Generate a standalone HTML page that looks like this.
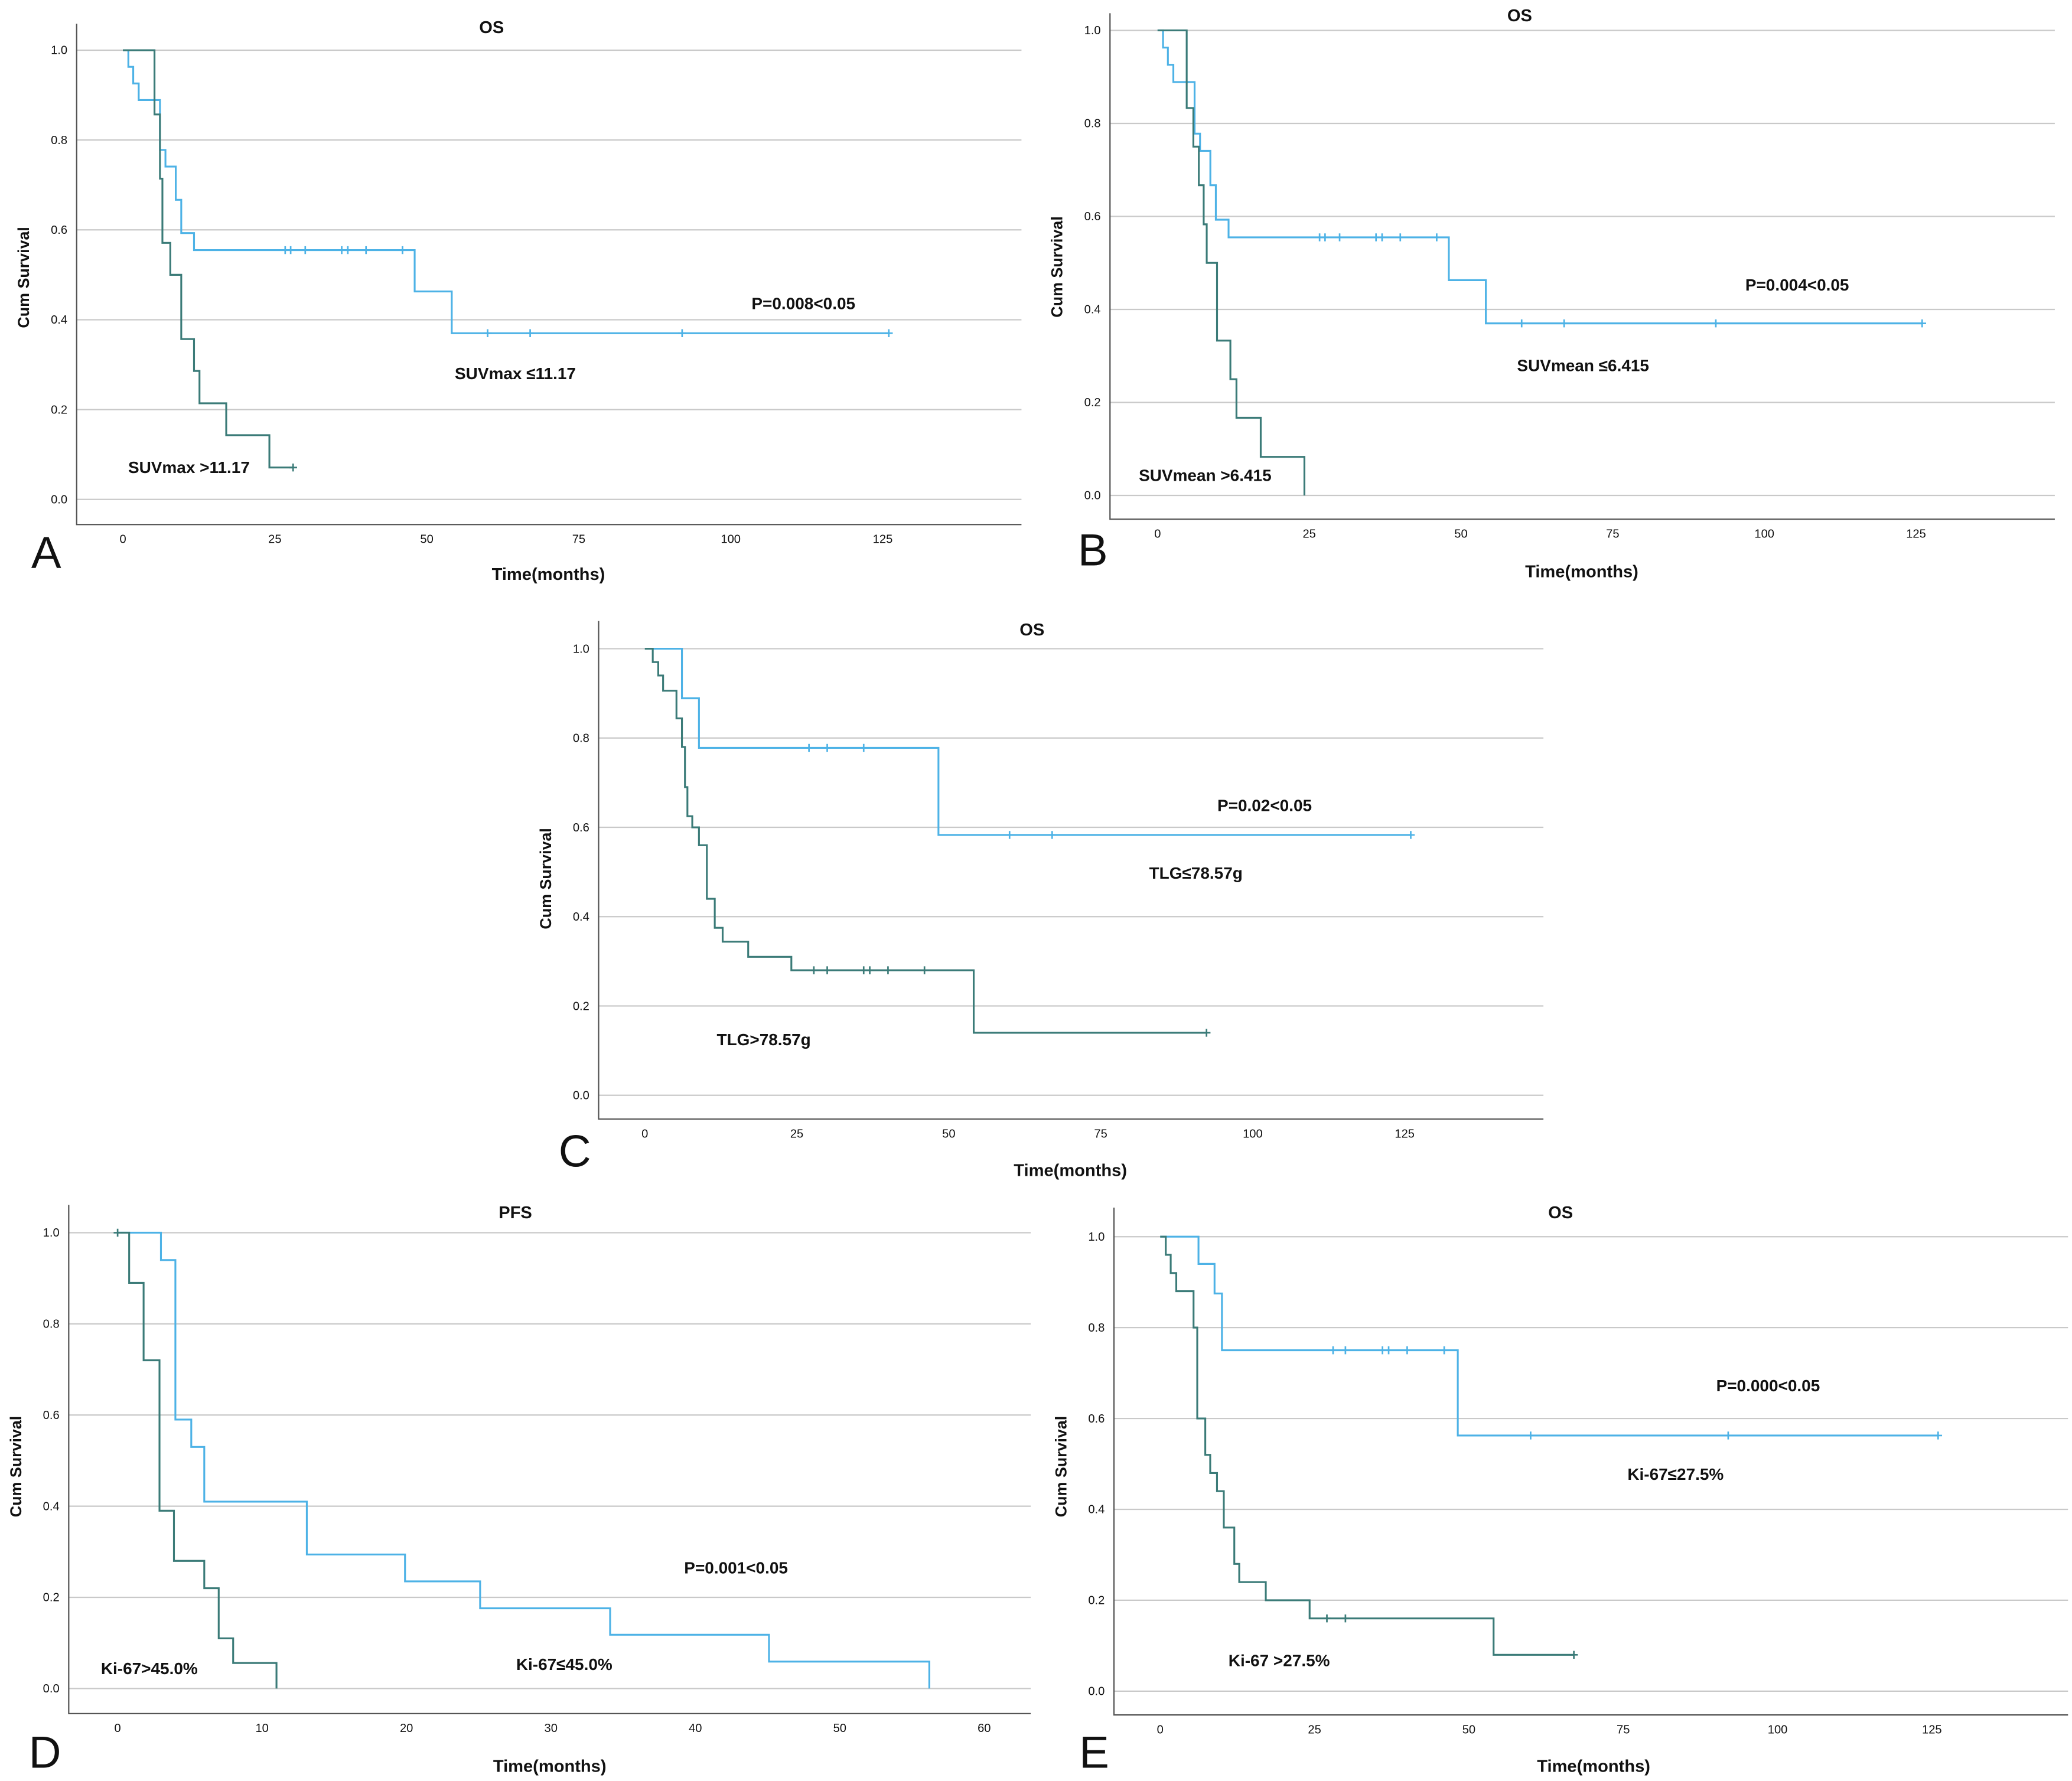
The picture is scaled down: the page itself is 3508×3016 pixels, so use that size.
<!DOCTYPE html>
<html><head><meta charset="utf-8">
<style>
html,body{margin:0;padding:0;background:#fff;}
svg{display:block;}
text{font-family:"Liberation Sans",sans-serif;}
</style></head>
<body>
<svg id="fig" xmlns="http://www.w3.org/2000/svg" width="3508" height="3016" viewBox="0 0 1568 1348" preserveAspectRatio="none"></svg>
<script>
// ---- data arrays (time of step, survival after step, end time, censor times) ----
const aLowT=[0.9,1.7,2.6,6.1,7,8.7,9.6,11.7,48,54.1];
const aLowV=[0.963,0.926,0.889,0.778,0.741,0.667,0.593,0.555,0.463,0.37];
const aLowEnd=126;
const aLowC=[26.7,27.6,30,36,37,40,46,60,67,92,126];
const aHighT=[5.2,6.1,6.5,7.8,9.6,11.7,12.6,17,24.1];
const aHighV=[0.857,0.714,0.571,0.5,0.357,0.286,0.214,0.143,0.071];
const aHighEnd=28;
const aHighC=[28];

const bLowT=[0.9,1.7,2.6,6.1,7,8.7,9.6,11.7,48,54.1];
const bLowV=[0.963,0.926,0.889,0.778,0.741,0.667,0.593,0.555,0.463,0.37];
const bLowEnd=126;
const bLowC=[26.7,27.6,30,36,37,40,46,60,67,92,126];
const bHighT=[4.8,5.9,6.8,7.6,8.1,9.8,12,13,17,24.2];
const bHighV=[0.833,0.75,0.667,0.583,0.5,0.333,0.25,0.167,0.083,0];
const bHighEnd=24.2;
const bHighC=[];

const cLowT=[6.1,8.9,48.3];
const cLowV=[0.889,0.778,0.583];
const cLowEnd=126;
const cLowC=[27,30,36,60,67,126];
const cHighT=[1.3,2.2,3,5.2,6.1,6.6,7,7.8,8.9,10.2,11.5,12.8,17,24.1,54.1];
const cHighV=[0.97,0.94,0.906,0.844,0.78,0.69,0.625,0.6,0.56,0.44,0.375,0.344,0.31,0.28,0.14];
const cHighEnd=92.4;
const cHighC=[27.8,30,36,37,40,46,92.4];

const dLowT=[3,4,5.1,6,13.1,19.9,25.1,34.1,45.1,56.2];
const dLowV=[0.94,0.59,0.53,0.41,0.294,0.235,0.176,0.118,0.059,0];
const dLowEnd=56.2;
const dLowC=[];
const dHighT=[0.8,1.8,2.9,3.9,6,7,8,11];
const dHighV=[0.89,0.72,0.39,0.28,0.22,0.11,0.056,0];
const dHighEnd=11;
const dHighC=[0];

const eLowT=[6.2,8.8,10,48.2];
const eLowV=[0.94,0.875,0.75,0.5625];
const eLowEnd=126;
const eLowC=[28,30,36,37,40,46,60,92,126];
const eHighT=[0.9,1.7,2.6,5.4,6,7.3,8.1,9.2,10.3,12,12.8,17.1,24.2,54];
const eHighV=[0.96,0.92,0.88,0.8,0.6,0.52,0.48,0.44,0.36,0.28,0.24,0.2,0.16,0.08];
const eHighEnd=67;
const eHighC=[27,30,67];

const yTicks=["0.0","0.2","0.4","0.6","0.8","1.0"];
const yTickVals=[0,0.2,0.4,0.6,0.8,1.0];
const osXTicks=[0,25,50,75,100,125];
const pfsXTicks=[0,10,20,30,40,50,60];

const LIGHT="#4db2e6", DARK="#3b7b78";
const NS="http://www.w3.org/2000/svg";
const svg=document.getElementById('fig');
function mk(tag,attrs,parent){const e=document.createElementNS(NS,tag);for(const k in attrs)e.setAttribute(k,attrs[k]);(parent||svg).appendChild(e);return e;}
function txt(s,x,y,size,opts,parent){const t=mk('text',Object.assign({x:x,y:y,'font-size':size,'text-anchor':'middle',fill:'#111'},opts||{}),parent);t.textContent=s;return t;}

function panel(p){
  const g=mk('g',{});
  
  
  const sx=t=>p.x0+(t)*p.xs, sy=v=>p.y0-v*p.ys;
  // gridlines
  yTickVals.forEach((v,i)=>{
    const l=mk('line',{x1:p.left,x2:p.right,y1:sy(v),y2:sy(v),stroke:'#c9c9c9','stroke-width':1},g);
    
    
    const t=txt(yTicks[i],p.left-7,sy(v)+3,9,{'text-anchor':'end'},g);
    
    
  });
  // axes
  const ax=mk('path',{d:`M${p.left},${p.top} V${p.bottom} H${p.right}`,stroke:'#555',fill:'none','stroke-width':1},g);
  
  
  p.xticks.forEach(tv=>{
    const t=txt(String(tv),sx(tv),p.bottom+14,9,{},g);
    
    
  });
  const ti=txt(p.title,p.titleX,p.titleY,13,{'font-weight':'bold'},g);
  
  
  const xl=txt('Time(months)',p.xlabX,p.xlabY,13,{'font-weight':'bold'},g);
  
  
  const yl=txt('Cum Survival',0,0,12,{'font-weight':'bold',transform:`translate(${p.ylabX},${p.ylabY}) rotate(-90)`},g);
  
  
  const le=txt(p.letter,p.letX,p.letY,34,{'font-family':'"Liberation Sans",sans-serif'},g);
  
  
  p.series.forEach(s=>{
    let d=`M${sx(0)},${sy(1)}`, v=1;
    s.T.forEach((t,i)=>{d+=` H${sx(t)} V${sy(s.V[i])}`;v=s.V[i];});
    d+=` H${sx(s.end)}`;
    const path=mk('path',{d:d,stroke:s.color,fill:'none','stroke-width':1.4},g);
    
    
    s.C.forEach(ct=>{
      let cv=1; s.T.forEach((t,i)=>{if(t<=ct)cv=s.V[i];});
      const cx=sx(ct), cy=sy(cv);
      const c=mk('path',{d:`M${cx-3},${cy} H${cx+3} M${cx},${cy-3} V${cy+3}`,stroke:s.color,'stroke-width':1.2},g);
      
      
    });
  });
  p.notes.forEach(n=>{
    const t=txt(n[0],n[1],n[2],12.5,{'font-weight':'bold'},g);
    
    
  });
}

panel({name:'panel-a',left:58,right:773,top:18,bottom:397,x0:93,xs:4.6,y0:378,ys:340,xticks:osXTicks,
  title:'OS',titleX:372,titleY:25,xlabX:415,xlabY:439,ylabX:22,ylabY:210,letter:'A',letX:35,letY:430,
  series:[{name:'series-suvmax-low',T:aLowT,V:aLowV,end:aLowEnd,C:aLowC,color:LIGHT},
          {name:'series-suvmax-high',T:aHighT,V:aHighV,end:aHighEnd,C:aHighC,color:DARK}],
  notes:[['P=0.008<0.05',608,234],['SUVmax ≤11.17',390,287],['SUVmax >11.17',143,358]]});
panel({name:'panel-b',left:840,right:1555,top:10,bottom:393,x0:876,xs:4.592,y0:375,ys:352,xticks:osXTicks,
  title:'OS',titleX:1150,titleY:16,xlabX:1197,xlabY:437,ylabX:804,ylabY:202,letter:'B',letX:827,letY:428,
  series:[{name:'series-suvmean-low',T:bLowT,V:bLowV,end:bLowEnd,C:bLowC,color:LIGHT},
          {name:'series-suvmean-high',T:bHighT,V:bHighV,end:bHighEnd,C:bHighC,color:DARK}],
  notes:[['P=0.004<0.05',1360,220],['SUVmean ≤6.415',1198,281],['SUVmean >6.415',912,364]]});
panel({name:'panel-c',left:453,right:1168,top:470,bottom:847,x0:488,xs:4.6,y0:829,ys:338,xticks:osXTicks,
  title:'OS',titleX:781,titleY:481,xlabX:810,xlabY:890,ylabX:417,ylabY:665,letter:'C',letX:435,letY:883,
  series:[{name:'series-tlg-low',T:cLowT,V:cLowV,end:cLowEnd,C:cLowC,color:LIGHT},
          {name:'series-tlg-high',T:cHighT,V:cHighV,end:cHighEnd,C:cHighC,color:DARK}],
  notes:[['P=0.02<0.05',957,614],['TLG≤78.57g',905,665],['TLG>78.57g',578,791]]});
panel({name:'panel-d',left:52,right:780,top:912,bottom:1297,x0:89,xs:10.93,y0:1278,ys:345,xticks:pfsXTicks,
  title:'PFS',titleX:390,titleY:922,xlabX:416,xlabY:1341,ylabX:16,ylabY:1110,letter:'D',letX:34,letY:1338,
  series:[{name:'series-ki67-low-pfs',T:dLowT,V:dLowV,end:dLowEnd,C:dLowC,color:LIGHT},
          {name:'series-ki67-high-pfs',T:dHighT,V:dHighV,end:dHighEnd,C:dHighC,color:DARK}],
  notes:[['P=0.001<0.05',557,1191],['Ki-67≤45.0%',427,1264],['Ki-67>45.0%',113,1267]]});
panel({name:'panel-e',left:843,right:1565,top:914,bottom:1298,x0:878,xs:4.672,y0:1280,ys:344,xticks:osXTicks,
  title:'OS',titleX:1181,titleY:922,xlabX:1206,xlabY:1341,ylabX:807,ylabY:1110,letter:'E',letX:828,letY:1338,
  series:[{name:'series-ki67-low-os',T:eLowT,V:eLowV,end:eLowEnd,C:eLowC,color:LIGHT},
          {name:'series-ki67-high-os',T:eHighT,V:eHighV,end:eHighEnd,C:eHighC,color:DARK}],
  notes:[['P=0.000<0.05',1338,1053],['Ki-67≤27.5%',1268,1120],['Ki-67 >27.5%',968,1261]]});
</script>
</body></html>
